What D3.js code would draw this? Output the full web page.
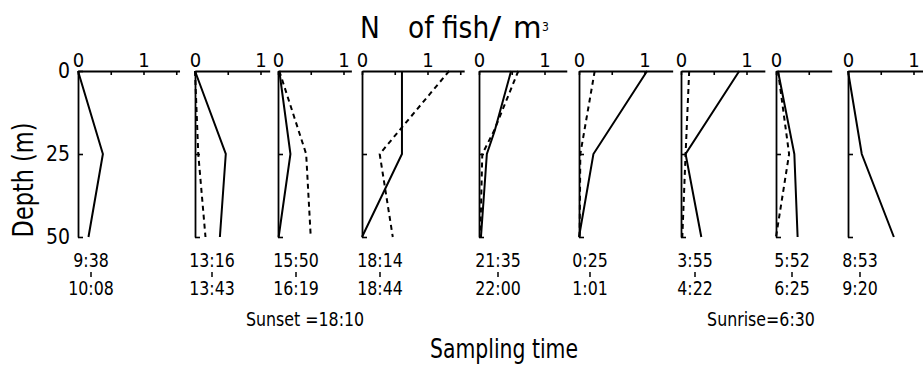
<!DOCTYPE html>
<html>
<head>
<meta charset="utf-8">
<script src="https://cdn.jsdelivr.net/npm/d3@7"></script>
<style>
  body { margin: 0; background: #fff; }
  svg { display: block; }
  text { font-family: "DejaVu Sans Condensed", "DejaVu Sans", sans-serif; fill: #000; }
</style>
</head>
<body>
<svg width="923" height="372"></svg>
<script>
const svg = d3.select("svg");

// Sampling times, start and end of each haul
const timeStart = ["9:38", "13:16", "15:50", "18:14", "21:35", "0:25", "3:55", "5:52", "8:53"];
const timeEnd = ["10:08", "13:43", "16:19", "18:44", "22:00", "1:01", "4:22", "6:25", "9:20"];

// Depths (m) of the profile points
const depths = [0, 25, 50];
const depthsBend = [0, 18, 25, 50];
const profileDepths = [depths, depths, depths, depths, depthsBend, depths, depths, depths, depths];

// N of fish / m3, solid profile
const solidValues = [
  [0, 0.38, 0.16],
  [0, 0.47, 0.38],
  [0.02, 0.19, 0.01],
  [0.61, 0.61, 0],
  [0.49, 0.24, 0.12, 0.03],
  [1.04, 0.22, 0],
  [0.89, 0.07, 0.31],
  [0.03, 0.28, 0.33],
  [0, 0.21, 0.7]
];

// N of fish / m3, dashed profile
const dashedValues = [
  null,
  [0, 0.05, 0.16],
  [0.02, 0.43, 0.5],
  [1.33, 0.27, 0.47],
  [0.6, 0.23, 0.05, 0.02],
  [0.24, 0.02, 0.01],
  [0.125, 0.07, 0.02],
  [0.03, 0.2, 0],
  null
];

// Layout of the small panels
const panelLeft = [78, 195, 278, 362, 479, 579, 681, 776, 848];
const panelMax = [1.55, 1.14, 1.12, 1.56, 1.34, 1.43, 1.28, 0.85, 1.2];
const labelShift = [13, 17, 18, 18, 19, 11, 14, 16, 12];
const unit = 65.5;

const y = d3.scaleLinear().domain([0, 50]).range([71, 237]);

// narrow lettering like the original stencil type
function label(parent, x, yy, size, str, sx, anchor = "middle", rot = 0) {
  return parent.append("text")
    .attr("transform", `translate(${x},${yy}) rotate(${rot}) scale(${sx},1)`)
    .attr("text-anchor", anchor)
    .attr("font-size", size)
    .text(str);
}

panelLeft.forEach((x0, i) => {
  const x = d3.scaleLinear()
    .domain([0, panelMax[i]])
    .range([x0, x0 + panelMax[i] * unit]);

  const g = svg.append("g");

  // top axis
  const top = g.append("g")
    .attr("transform", `translate(0,${y(0)})`)
    .call(d3.axisTop(x)
      .tickValues([0, 0.5, 1, 1.5].filter(v => v <= panelMax[i]))
      .tickSizeInner(-4).tickSizeOuter(0).tickPadding(4)
      .tickFormat(v => (v === 0 || v === 1) ? v : ""));

  // depth axis
  const left = g.append("g")
    .attr("transform", `translate(${x0},0)`)
    .call(d3.axisLeft(y)
      .tickValues(i === 0 ? [0, 25, 50] : [25, 50])
      .tickSizeInner(-5).tickSizeOuter(0).tickPadding(8)
      .tickFormat(i === 0 ? d3.format("d") : () => ""));

  [top, left].forEach(a => {
    a.select(".domain").attr("stroke", "#000").attr("stroke-width", 1.8);
    a.selectAll(".tick line").attr("stroke", "#000").attr("stroke-width", 1.6);
    a.selectAll(".tick text").attr("font-size", 20).attr("font-family", null);
  });
  left.selectAll(".tick text").attr("font-size", 21);

  const line = d3.line()
    .x(d => x(d[1]))
    .y(d => y(d[0]));

  g.append("path")
    .datum(d3.zip(profileDepths[i], solidValues[i]))
    .attr("d", line)
    .attr("fill", "none")
    .attr("stroke", "#000")
    .attr("stroke-width", 2);

  if (dashedValues[i]) {
    g.append("path")
      .datum(d3.zip(profileDepths[i], dashedValues[i]))
      .attr("d", line)
      .attr("fill", "none")
      .attr("stroke", "#000")
      .attr("stroke-width", 2)
      .attr("stroke-dasharray", "5,4");
  }

  // sampling time labels
  const cx = x0 + labelShift[i];
  label(g, cx, 267, 20, timeStart[i], 0.88);
  g.append("line")
    .attr("x1", cx).attr("x2", cx).attr("y1", 272).attr("y2", 277)
    .attr("stroke", "#000").attr("stroke-width", 1.5);
  label(g, cx, 295, 20, timeEnd[i], 0.88);
});

// notes
label(svg, 305, 326, 20, "Sunset =18:10", 0.88);
label(svg, 761, 326, 20, "Sunrise=6:30", 0.88);

// titles
label(svg, 360, 38, 31, "N", 0.95, "start");
label(svg, 408, 38, 31, "of fish", 0.95, "start");
label(svg, 489, 38, 31, "/", 1.3, "start");
label(svg, 513, 38, 31, "m", 1.05, "start");
label(svg, 542, 31, 12, "3", 1, "start");

label(svg, 33, 180, 29, "Depth (m)", 0.86, "middle", -90);

label(svg, 504, 358, 27, "Sampling time", 0.84);
</script>
</body>
</html>
